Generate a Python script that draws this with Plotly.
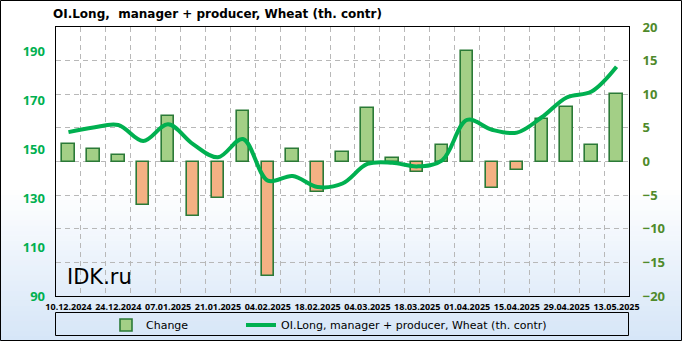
import plotly.graph_objects as go

dates = ["10.12.2024", "17.12.2024", "24.12.2024", "31.12.2024", "07.01.2025", "14.01.2025",
         "21.01.2025", "28.01.2025", "04.02.2025", "11.02.2025", "18.02.2025", "25.02.2025",
         "04.03.2025", "11.03.2025", "18.03.2025", "25.03.2025", "01.04.2025", "08.04.2025",
         "15.04.2025", "22.04.2025", "29.04.2025", "06.05.2025", "13.05.2025"]
change = [2.6, 1.9, 1.0, -6.5, 6.8, -8.1, -5.4, 7.5, -17.0, 1.9, -4.5, 1.4,
          8.0, 0.5, -1.5, 2.5, 16.5, -4.0, -1.2, 6.3, 8.1, 2.4, 10.1]
oi_long = [157.0, 158.9, 159.9, 153.4, 160.2, 152.1, 146.7, 154.2, 137.2, 139.1, 134.6, 136.0,
           144.0, 144.5, 143.0, 145.5, 162.0, 158.0, 156.8, 163.1, 171.2, 173.6, 183.7]
title_text = "OI.Long,  manager + producer, Wheat (th. contr)"
change_name = "Change"
line_name = "OI.Long, manager + producer, Wheat (th. contr)"

W, H = 682, 341
L, R, T, B = 56, 53, 27, 45
pw, ph = W - L - R, H - T - B

def px_x(p):
    return (p - L) / pw

def px_y(p):
    return (H - B - p) / ph

idx = list(range(len(dates)))
bar_colors = ["#a3cf86" if v >= 0 else "#f4b183" for v in change]

fig = go.Figure()
fig.add_trace(go.Bar(
    x=idx, y=change, name=change_name, width=0.5,
    marker=dict(color=bar_colors, line=dict(color="#2b7a37", width=1.6)),
    yaxis="y", legend="legend",
))
fig.add_trace(go.Scatter(
    x=idx, y=oi_long, name=line_name, mode="lines",
    line=dict(color="#00b050", width=4, shape="spline", smoothing=1.0),
    yaxis="y2", legend="legend2",
))

shapes = []
# background gradient
y_start, y_end = 190, H
n = 30
c0 = (255, 255, 255)
c1 = (214, 230, 248)
for i in range(n):
    ya = y_start + (y_end - y_start) * i / n
    yb = y_start + (y_end - y_start) * (i + 1) / n
    t = (i + 0.5) / n
    col = "rgb(%d,%d,%d)" % tuple(int(c0[k] + (c1[k] - c0[k]) * t) for k in range(3))
    shapes.append(dict(type="rect", xref="paper", yref="paper",
                       x0=px_x(0), x1=px_x(W), y0=px_y(ya), y1=px_y(yb + 0.5),
                       fillcolor=col, line=dict(width=0), layer="below"))
# outer border
shapes.append(dict(type="rect", xref="paper", yref="paper",
                   x0=px_x(0.5), x1=px_x(W - 0.5), y0=px_y(0.5), y1=px_y(H - 0.5),
                   line=dict(color="black", width=1), layer="above"))
# legend box
shapes.append(dict(type="rect", xref="paper", yref="paper",
                   x0=px_x(55.5), x1=px_x(628.5), y0=px_y(312.5), y1=px_y(335.5),
                   line=dict(color="black", width=1), layer="above"))

legend_common = dict(orientation="h", xref="container", yref="container",
                     xanchor="left", y=1 - 325 / H, yanchor="middle",
                     bgcolor="rgba(0,0,0,0)", borderwidth=0,
                     font=dict(family="DejaVu Sans", size=11, color="black"))

fig.update_layout(
    width=W, height=H,
    margin=dict(l=L, r=R, t=T, b=B, autoexpand=False),
    paper_bgcolor="white",
    plot_bgcolor="rgba(0,0,0,0)",
    showlegend=True,
    bargap=0,
    title=dict(text="<b>" + title_text + "</b>", x=53 / W, xanchor="left", xref="container",
               y=1 - 14 / H, yanchor="middle", yref="container",
               font=dict(family="DejaVu Sans", size=12, color="black")),
    xaxis=dict(range=[-0.5, len(dates) - 0.5], tickmode="array",
               tickvals=idx[::2], ticktext=["<b>%s</b>" % d for d in dates[::2]],
               tickfont=dict(family="Noto Sans", size=9, color="black"),
               showgrid=False, zeroline=False, ticks="", ticklabelstandoff=2,
               showline=True, linecolor="black", linewidth=1, mirror=True,
               minor=dict(tickmode="array", tickvals=[i + 0.5 for i in idx[:-1]],
                          showgrid=True, gridcolor="#b8b8b8", griddash="5px,4px", gridwidth=1, ticks="")),
    yaxis=dict(side="right", range=[-20, 20], tick0=-20, dtick=5,
               tickfont=dict(family="Noto Sans", size=13, color="#4f8a2b", weight="bold"),
               showgrid=True, gridcolor="#b8b8b8", griddash="5px,4px", gridwidth=1,
               zeroline=False, ticks="", ticklabelstandoff=10,
               showline=True, linecolor="black", linewidth=1, mirror=True),
    yaxis2=dict(side="left", overlaying="y", range=[90, 200], tick0=90, dtick=20,
                tickfont=dict(family="Noto Sans", size=13, color="#00b050", weight="bold"),
                showgrid=False, zeroline=False, ticks="", ticklabelstandoff=10),
    legend=dict(x=106 / W, **legend_common),
    legend2=dict(x=241 / W, **legend_common),
    shapes=shapes,
    annotations=[dict(text="IDK.ru", xref="paper", yref="paper", x=px_x(65), y=px_y(277),
                      xanchor="left", yanchor="middle", showarrow=False,
                      font=dict(family="DejaVu Sans", size=21, color="black"))],
)

fig.write_html("out.html")
